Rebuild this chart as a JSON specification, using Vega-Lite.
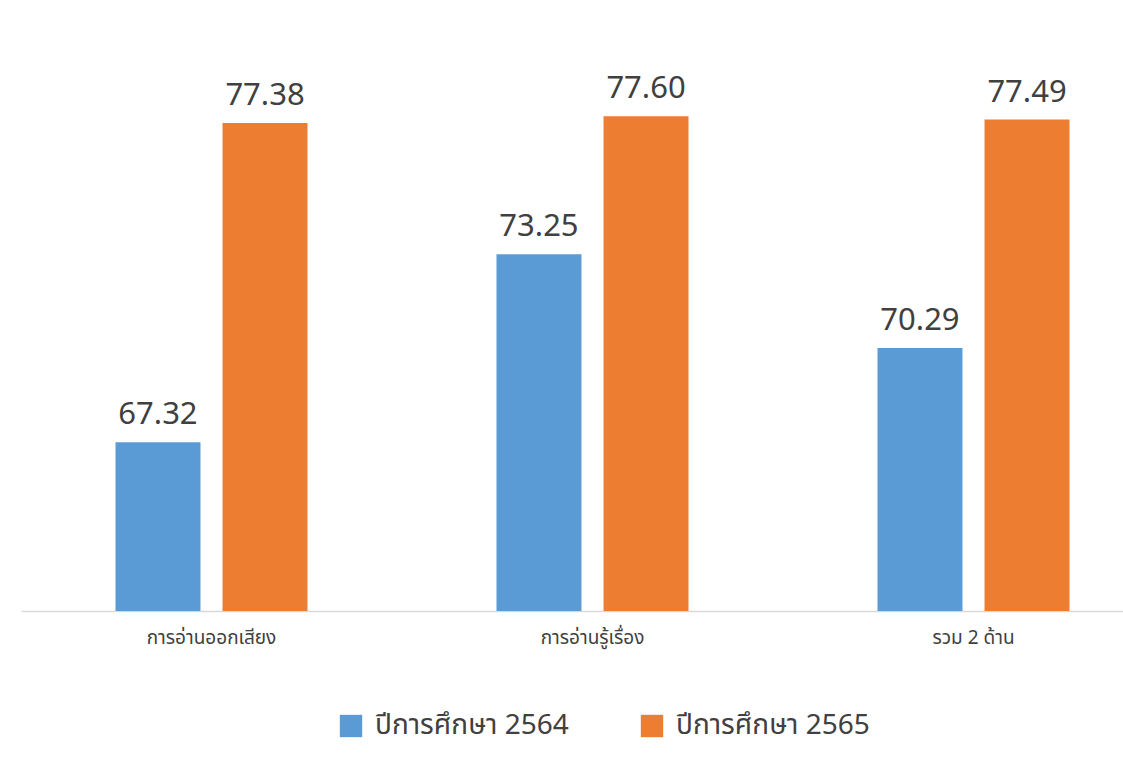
{
  "$schema": "https://vega.github.io/schema/vega-lite/v6.json",
  "width": 1143,
  "height": 571,
  "autosize": "none",
  "padding": {"left": 21, "top": 40, "right": 0, "bottom": 160},
  "background": "white",
  "config": {
    "view": {"stroke": null},
    "font": "Noto Sans, Noto Sans Thai, DejaVu Sans, sans-serif"
  },
  "data": {
    "values": [
      {"cat": "การอ่านออกเสียง", "year": "ปีการศึกษา 2564", "v": 67.32},
      {"cat": "การอ่านออกเสียง", "year": "ปีการศึกษา 2565", "v": 77.38},
      {"cat": "การอ่านรู้เรื่อง", "year": "ปีการศึกษา 2564", "v": 73.25},
      {"cat": "การอ่านรู้เรื่อง", "year": "ปีการศึกษา 2565", "v": 77.60},
      {"cat": "รวม 2 ด้าน", "year": "ปีการศึกษา 2564", "v": 70.29},
      {"cat": "รวม 2 ด้าน", "year": "ปีการศึกษา 2565", "v": 77.49}
    ]
  },
  "encoding": {
    "x": {
      "field": "cat", "type": "nominal", "sort": null,
      "scale": {"paddingInner": 0, "paddingOuter": 0},
      "axis": {
        "title": null, "labelAngle": 0, "ticks": false,
        "domainColor": "#d9d9d9", "domainWidth": 1.5,
        "labelFontSize": 19, "labelColor": "#404040", "labelPadding": 17
      }
    },
    "xOffset": {
      "field": "year", "type": "nominal",
      "scale": {"paddingInner": 0.206, "paddingOuter": 0.883}
    },
    "y": {
      "field": "v", "type": "quantitative",
      "scale": {"domain": [62, 80], "zero": false, "clamp": true},
      "axis": null
    }
  },
  "layer": [
    {
      "mark": {"type": "bar", "clip": true},
      "encoding": {
        "color": {
          "field": "year", "type": "nominal",
          "scale": {"range": ["#5b9bd5", "#ed7d31"]},
          "legend": {
            "title": null, "orient": "none", "direction": "horizontal",
            "legendX": 316, "legendY": 672,
            "symbolType": "square", "symbolSize": 500, "symbolStrokeWidth": 0,
            "labelFontSize": 28, "labelColor": "#404040", "labelOffset": 10,
            "labelLimit": 0, "columnPadding": 69, "padding": 0
          }
        }
      }
    },
    {
      "mark": {"type": "text", "dy": -18, "baseline": "alphabetic", "fontSize": 31, "color": "#404040"},
      "encoding": {
        "text": {"field": "v", "type": "quantitative", "format": ".2f"}
      }
    }
  ]
}
